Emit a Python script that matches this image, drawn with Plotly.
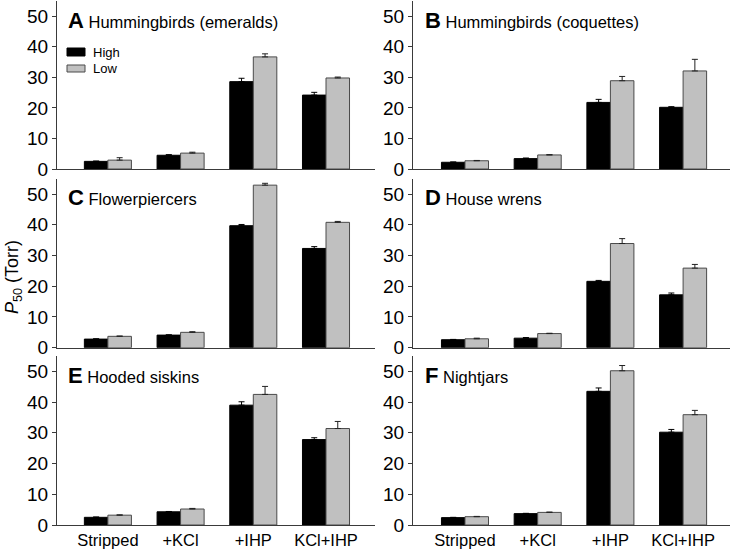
import plotly.graph_objects as go

categories = ["Stripped", "+KCl", "+IHP", "KCl+IHP"]
panel_letters = ["A", "B", "C", "D", "E", "F"]
panel_names = ["Hummingbirds (emeralds)", "Hummingbirds (coquettes)", "Flowerpiercers",
               "House wrens", "Hooded siskins", "Nightjars"]
series_names = ["High", "Low"]

high_A = [2.5, 4.5, 28.6, 24.2]
high_A_err = [0.1, 0.2, 1.1, 0.9]
low_A = [2.9, 5.2, 36.7, 29.8]
low_A_err = [0.8, 0.3, 1.0, 0.3]

high_B = [2.2, 3.4, 21.8, 20.2]
high_B_err = [0.1, 0.2, 1.0, 0.2]
low_B = [2.7, 4.6, 28.9, 32.1]
low_B_err = [0.1, 0.1, 1.4, 3.8]

high_C = [2.8, 4.1, 39.7, 32.3]
high_C_err = [0.1, 0.1, 0.4, 0.6]
low_C = [3.7, 5.0, 52.9, 40.8]
low_C_err = [0.1, 0.2, 0.6, 0.3]

high_D = [2.6, 3.1, 21.6, 17.2]
high_D_err = [0.1, 0.2, 0.3, 0.6]
low_D = [2.9, 4.6, 33.9, 25.9]
low_D_err = [0.2, 0.1, 1.6, 1.2]

high_E = [2.5, 4.3, 39.0, 27.8]
high_E_err = [0.1, 0.1, 1.1, 0.6]
low_E = [3.2, 5.2, 42.5, 31.4]
low_E_err = [0.1, 0.2, 2.6, 2.3]

high_F = [2.4, 3.7, 43.5, 30.2]
high_F_err = [0.1, 0.1, 1.1, 0.9]
low_F = [2.7, 4.1, 50.2, 35.9]
low_F_err = [0.1, 0.1, 1.7, 1.4]

y_ticks = [0, 10, 20, 30, 40, 50]

highs = [high_A, high_B, high_C, high_D, high_E, high_F]
high_errs = [high_A_err, high_B_err, high_C_err, high_D_err, high_E_err, high_F_err]
lows = [low_A, low_B, low_C, low_D, low_E, low_F]
low_errs = [low_A_err, low_B_err, low_C_err, low_D_err, low_E_err, low_F_err]

FONT = "Liberation Sans"
AX = "#3a3a3a"
HIGH_COLOR = "black"
LOW_COLOR = "#c0c0c0"
LOW_LINE = "#4a4a4a"

fig = go.Figure()

# pixel layout (figure 734x555, margins l=57, r=4, t=1, b=30)
W, H = 673.0, 524.0
left_dom = [0.0, 318 / W]
right_dom = [356 / W, 1.0]
row_doms = [[(525 - 169) / H, 1.0], [(525 - 347.7) / H, (525 - 178.7) / H], [0.0, (525 - 356) / H]]

for i in range(6):
    n = i + 1
    xa = "x" if n == 1 else f"x{n}"
    ya = "y" if n == 1 else f"y{n}"
    fig.add_trace(go.Bar(
        x=categories, y=highs[i], name=series_names[0], xaxis=xa, yaxis=ya,
        marker=dict(color=HIGH_COLOR, line=dict(color="black", width=1)),
        error_y=dict(type="data", array=high_errs[i], arrayminus=[0] * 4, symmetric=False,
                     color="black", thickness=1, width=3),
        showlegend=False, offsetgroup="h"))
    fig.add_trace(go.Bar(
        x=categories, y=lows[i], name=series_names[1], xaxis=xa, yaxis=ya,
        marker=dict(color=LOW_COLOR, line=dict(color=LOW_LINE, width=1)),
        error_y=dict(type="data", array=low_errs[i], arrayminus=[0] * 4, symmetric=False,
                     color="#222222", thickness=1, width=3),
        showlegend=False, offsetgroup="l"))

layout = dict(
    width=734, height=555,
    margin=dict(l=57, r=4, t=1, b=30, autoexpand=False),
    paper_bgcolor="white", plot_bgcolor="white",
    barmode="group", bargap=0.353, bargroupgap=0,
    font=dict(family=FONT, size=16, color="black"),
    showlegend=False,
)

annotations = []
shapes = []
for i in range(6):
    n = i + 1
    row = i // 2
    col = i % 2
    xkey = "xaxis" if n == 1 else f"xaxis{n}"
    ykey = "yaxis" if n == 1 else f"yaxis{n}"
    ya = "y" if n == 1 else f"y{n}"
    xa = "x" if n == 1 else f"x{n}"
    if col == 0:
        dom = left_dom
        rng = [-0.70, 3.674]
    else:
        dom = right_dom
        rng = [-0.715, 3.645]
    layout[xkey] = dict(
        domain=dom, anchor=ya, range=rng, type="category", automargin=False,
        showline=True, linecolor=AX, linewidth=1, ticks="",
        showgrid=False, zeroline=False, fixedrange=True,
        showticklabels=(row == 2), tickfont=dict(size=16.5, family=FONT),
        categoryorder="array", categoryarray=categories,
    )
    layout[ykey] = dict(
        domain=row_doms[row], anchor=xa, range=[0, 55], automargin=False,
        showline=True, linecolor=AX, linewidth=1,
        ticks="outside", ticklen=4, tickcolor=AX, tickvals=y_ticks,
        showgrid=False, zeroline=False, tickfont=dict(size=19, family=FONT),
    )
    annotations.append(dict(
        xref=f"{xa} domain", yref=f"{ya} domain",
        x=0.028 if col == 0 else 0.032, y=(169 - 20) / 168,
        xanchor="left", yanchor="middle", showarrow=False,
        text=f"<span style='font-size:22px'><b>{panel_letters[i]}</b></span> {panel_names[i]}",
        font=dict(size=16.5, color="black", family=FONT),
    ))

# legend drawn in panel A (positions in pixels of axis domain)
def dx(px):
    return (px - 57) / 318.0

def dy(py):
    return (169 - py) / 168.0

shapes.append(dict(type="rect", xref="x domain", yref="y domain",
                   x0=dx(67), x1=dx(85), y0=dy(56), y1=dy(48),
                   fillcolor=HIGH_COLOR, line=dict(color="black", width=1)))
shapes.append(dict(type="rect", xref="x domain", yref="y domain",
                   x0=dx(67), x1=dx(85), y0=dy(72), y1=dy(65),
                   fillcolor=LOW_COLOR, line=dict(color=LOW_LINE, width=1)))
annotations.append(dict(xref="x domain", yref="y domain", x=dx(91), y=dy(52),
                        xanchor="left", yanchor="middle", showarrow=False,
                        text=series_names[0], font=dict(size=13, family=FONT, color="black")))
annotations.append(dict(xref="x domain", yref="y domain", x=dx(91), y=dy(68.5),
                        xanchor="left", yanchor="middle", showarrow=False,
                        text=series_names[1], font=dict(size=13, family=FONT, color="black")))

annotations.append(dict(
    xref="paper", yref="paper", x=(13 - 57) / W, y=(525 - 277) / H,
    xanchor="center", yanchor="middle", showarrow=False, textangle=-90,
    text="<i>P</i><sub>50</sub> (Torr)", font=dict(size=18, color="black", family=FONT),
))
layout["annotations"] = annotations
layout["shapes"] = shapes

fig.update_layout(**layout)
fig.write_html("out.html", config={"displayModeBar": False},
               post_script="document.body.style.margin='0px';document.body.style.overflow='hidden';")
